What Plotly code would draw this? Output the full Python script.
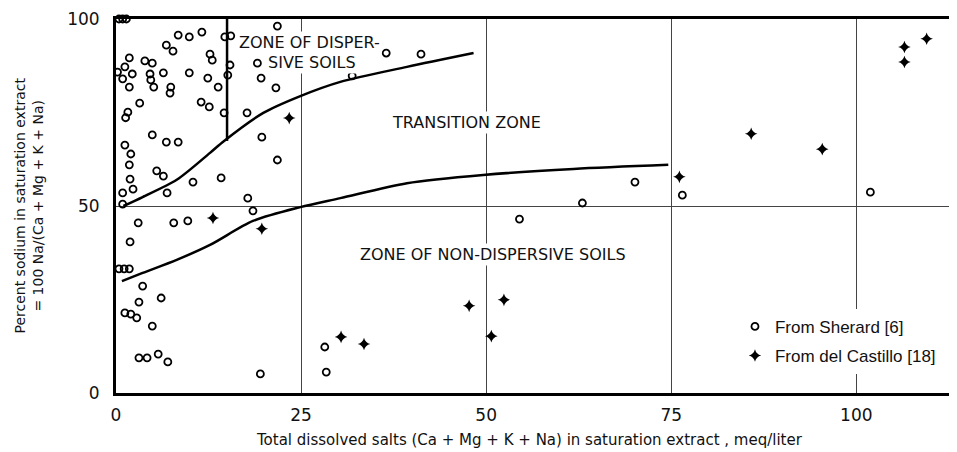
import plotly.graph_objects as go

# Sherard [6] points (open circles)
sherard_x = [0.4, 0.9, 1.4, 8.4, 9.9, 11.6, 6.8, 7.7, 1.8, 3.9, 4.9, 12.7, 13.0, 1.2, 0.2, 2.2,
             0.9, 4.6, 6.4, 9.9, 12.4, 1.8, 4.7, 5.1, 7.4, 7.3, 13.8, 3.2, 11.5, 12.6, 1.6, 1.3,
             14.7, 15.5, 15.4, 15.1, 14.6, 4.9, 6.8, 8.4, 1.2, 2.0, 1.8, 5.5, 6.4, 1.9, 2.3, 0.9,
             10.4, 14.2, 6.9, 0.9, 21.8, 19.1, 19.6, 21.6, 17.7, 19.7, 21.8, 17.8, 18.5, 36.5,
             41.2, 31.9, 70.1, 63.0, 54.5, 76.5, 101.9, 3.0, 7.8, 9.7, 1.9, 0.4, 1.1, 1.8, 3.6,
             3.1, 6.1, 1.2, 2.0, 2.8, 4.9, 3.1, 4.2, 5.7, 7.0, 19.5, 28.2, 28.4]
sherard_y = [100, 100, 100, 95.7, 95.2, 96.5, 93.0, 91.4, 89.6, 88.8, 88.2, 90.6, 89.0, 87.2, 85.8, 85.3,
             84.0, 85.3, 85.6, 85.6, 84.2, 81.8, 83.7, 81.8, 81.8, 80.2, 81.8, 77.5, 77.8, 76.5, 75.1, 73.6,
             95.2, 95.5, 87.7, 85.0, 74.9, 69.0, 67.1, 67.1, 66.3, 63.9, 61.0, 59.4, 58.0, 57.2, 54.5, 53.5,
             56.4, 57.5, 53.5, 50.5, 98.1, 88.2, 84.2, 81.6, 74.9, 68.4, 62.3, 52.1, 48.7, 90.9,
             90.6, 84.8, 56.4, 50.8, 46.5, 52.9, 53.7, 45.5, 45.5, 46.0, 40.4, 33.2, 33.2, 33.2, 28.6,
             24.3, 25.4, 21.4, 21.1, 20.1, 17.9, 9.4, 9.4, 10.4, 8.3, 5.1, 12.3, 5.6]

# del Castillo [18] points (crosses)
castillo_x = [23.4, 13.1, 19.7, 30.4, 33.5, 47.7, 50.7, 52.4, 76.1, 85.8, 95.4, 106.5, 106.5, 109.5]
castillo_y = [73.5, 46.8, 43.9, 15.0, 13.1, 23.3, 15.2, 24.9, 57.8, 69.3, 65.2, 92.5, 88.5, 94.7]

# zone boundaries
upper_x = [1.0, 3.6, 8.2, 12.7, 14.6, 19.9, 24.9, 30.3, 39.3, 48.3]
upper_y = [50.0, 52.4, 57.0, 64.2, 67.4, 74.9, 79.4, 83.2, 87.2, 90.9]
lower_x = [0.8, 3.6, 8.2, 12.7, 18.5, 24.9, 30.3, 39.3, 49.6, 61.8, 74.6]
lower_y = [29.9, 32.1, 35.6, 39.6, 46.0, 49.7, 52.1, 56.1, 58.3, 59.9, 61.0]
split_x = [15, 15]
split_y = [67.4, 100]

fig = go.Figure()

line_style = dict(color='black', width=2.5, shape='spline', smoothing=0.8)
fig.add_trace(go.Scatter(x=upper_x, y=upper_y, mode='lines', line=line_style, showlegend=False))
fig.add_trace(go.Scatter(x=lower_x, y=lower_y, mode='lines', line=line_style, showlegend=False))
fig.add_trace(go.Scatter(x=split_x, y=split_y, mode='lines',
                         line=dict(color='black', width=2.5), showlegend=False))

fig.add_trace(go.Scatter(
    x=sherard_x, y=sherard_y, mode='markers', name='From Sherard [6]',
    legendgroup='a', cliponaxis=False,
    marker=dict(symbol='circle-open', size=7, color='black', line=dict(width=1.8))
))
fig.add_trace(go.Scatter(
    x=castillo_x, y=castillo_y, mode='markers', name='From del Castillo [18]',
    legendgroup='b', cliponaxis=False,
    marker=dict(symbol='star-diamond', size=9, color='black')
))

zone_font = dict(family='DejaVu Sans', size=16, color='#111')
for txt, x, y in [('ZONE OF DISPER-', 26.2, 93.6), ('SIVE SOILS', 26.5, 88.4),
                  ('TRANSITION ZONE', 47.3, 72.2),
                  ('ZONE OF NON-DISPERSIVE SOILS', 50.9, 36.9)]:
    fig.add_annotation(x=x, y=y, text=txt, showarrow=False, font=zone_font,
                       bgcolor='white', borderpad=1)

fig.add_annotation(
    xref='paper', yref='paper', x=-0.104, y=0.5, xanchor='center', yanchor='middle',
    textangle=-90,
    text='Percent sodium in saturation extract<br>= 100 Na/(Ca + Mg + K + Na)',
    showarrow=False, font=dict(family='DejaVu Sans', size=14, color='#111')
)
fig.add_annotation(
    xref='paper', yref='paper', x=0.492, y=-0.126, xanchor='center', yanchor='middle',
    text='Total dissolved salts (Ca + Mg + K + Na) in saturation extract , meq/liter',
    showarrow=False, font=dict(family='DejaVu Sans', size=15, color='#111')
)

fig.update_xaxes(
    range=[0, 113.6], tickvals=[0, 25, 50, 75, 100], ticks='', ticklabelstandoff=5,
    showgrid=True, gridcolor='#444', gridwidth=1.2, zeroline=False,
    showline=True, linecolor='black', linewidth=3, mirror=True,
    tickfont=dict(family='DejaVu Sans', size=17, color='#111')
)
fig.update_yaxes(
    range=[0, 100], tickvals=[0, 50, 100], ticks='', ticklabelstandoff=10,
    showgrid=True, gridcolor='#444', gridwidth=1.2, zeroline=False,
    showline=True, linecolor='black', linewidth=3,
    tickfont=dict(family='DejaVu Sans', size=17, color='#111')
)

# page body has an 8px margin, so the figure is sized to fit the window
fig.update_layout(
    width=949, height=444,
    margin=dict(l=108, r=0, t=11, b=59),
    plot_bgcolor='white', paper_bgcolor='white',
    legend=dict(x=0.736, y=0.225, xanchor='left', yanchor='top',
                bgcolor='white', tracegroupgap=4,
                font=dict(family='Liberation Sans', size=17, color='#111')),
)

fig.write_html("out.html")
